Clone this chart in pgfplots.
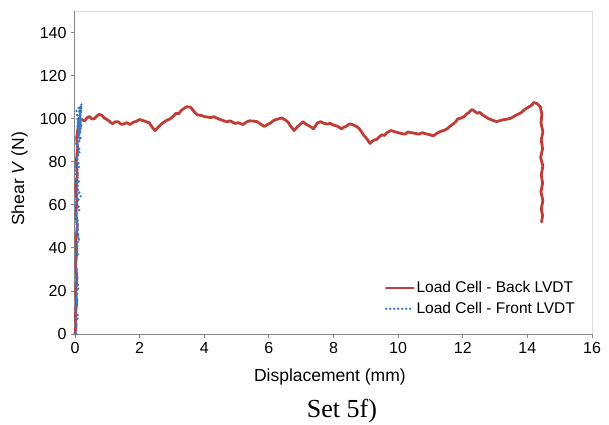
\documentclass[border=0pt]{standalone}
\usepackage{pgfplots}
\pgfplotsset{compat=1.18}
\usepackage{fontspec}
\setmainfont{Liberation Sans}
\newfontfamily\serifcap{Liberation Serif}
\definecolor{backred}{RGB}{192,60,55}
\definecolor{frontblue}{RGB}{60,120,200}
\definecolor{axgray}{RGB}{134,134,134}
\definecolor{boxgray}{RGB}{220,220,220}
\begin{document}
\begin{tikzpicture}[x=1pt,y=1pt]
\useasboundingbox (0,0) rectangle (609,424);
\begin{axis}[
  at={(75pt,90pt)}, anchor=origin,
  scale only axis, width=517pt, height=323pt,
  xmin=0, xmax=16, ymin=0, ymax=150,
  xtick={0,2,...,16}, ytick={0,20,...,140},
  axis x line*=bottom, axis y line*=left,
  axis line style={axgray, line width=1pt},
  tick align=outside, major tick length=4pt,
  tick style={axgray, line width=0.8pt},
  /pgf/number format/assume math mode=true,
  tick label style={font=\fontsize{16}{18}\selectfont},
  xticklabel style={yshift=-1pt},
  yticklabel style={xshift=-1pt},
  xlabel={Displacement (mm)},
  ylabel={Shear \textit{V} (N)},
  every axis x label/.style={at={(axis description cs:0.493,-0.148)}, anchor=base, font=\fontsize{17.5}{20}\selectfont},
  every axis y label/.style={at={(axis description cs:-0.107,0.48)}, rotate=90, anchor=center, font=\fontsize{17.5}{20}\selectfont},
  legend style={at={(axis description cs:0.595,0.175)}, anchor=north west, draw=none, fill=none,
    font=\fontsize{15.5}{18}\selectfont, row sep=4pt, inner sep=2pt},
  legend cell align=left,
  legend image code/.code={\draw[#1] (0pt,0pt) -- (27pt,0pt);},
  clip=false,
]
\draw[boxgray, line width=1pt] (rel axis cs:0,1) -- (rel axis cs:1,1) -- (rel axis cs:1,0);
\addplot[backred, line width=2.8pt, line join=round, line cap=round] coordinates {
(0,0)(0.03,4)(0.01,9)(0.05,14)(0.02,20)(0.06,26)(0.02,32)(0.05,38)(0.03,44)(0.07,50)(0.03,56)(0.06,62)(0.02,68)(0.07,74)(0.04,80)(0.08,86)(0.05,91)(0.1,96)(0.13,100.2)
(0.22,99.5)(0.3,99)(0.38,100.5)(0.45,101)(0.52,99.8)(0.6,100)(0.68,101.3)(0.75,102)(0.84,101.5)(0.9,100.3)(0.95,100)(1.05,99)(1.1,98.2)(1.17,97.7)(1.25,98.6)(1.35,98.5)(1.42,97.4)(1.5,97.5)(1.6,98.1)(1.71,97.3)(1.8,98.3)(1.9,98.8)(2.0,99.6)(2.15,98.9)(2.3,98)(2.4,95.8)(2.48,94.5)(2.6,96.5)(2.7,97.8)(2.8,98.9)(2.95,100)(3.05,101.2)(3.13,102.6)(3.2,102.2)(3.3,104)(3.45,105.5)(3.57,105.4)(3.65,104)(3.7,103)(3.79,101.8)(3.9,101.5)(4.0,101)(4.2,100.5)(4.3,100.9)(4.44,99.9)(4.55,99.3)(4.7,98.5)(4.8,99)(4.95,97.8)(5.05,98.1)(5.2,97.3)(5.3,98.4)(5.4,99)(5.5,98.9)(5.64,98.6)(5.75,97.4)(5.86,96.4)(5.95,97.2)(6.05,98)(6.15,99.2)(6.29,99.9)(6.4,100.3)(6.51,99.4)(6.6,98.3)(6.65,97)(6.78,94.5)(6.9,96.5)(6.97,97.4)(7.06,98.6)(7.13,97.6)(7.2,97)(7.3,96.2)(7.38,95.3)(7.45,96.8)(7.5,98)(7.6,98.6)(7.7,97.9)(7.8,97.5)(7.9,97.8)(8.0,97)(8.12,96.5)(8.25,95.3)(8.33,96.1)(8.4,96.5)(8.5,97.6)(8.58,97.3)(8.7,96.5)(8.8,95.3)(8.88,93.6)(8.95,92)(9.05,90.3)(9.13,88.5)(9.2,89.6)(9.25,90)(9.34,90.4)(9.42,91.6)(9.5,92.5)(9.58,92.2)(9.65,93.5)(9.78,94.5)(9.9,93.9)(10.0,93.5)(10.1,93.1)(10.22,92.8)(10.3,93.8)(10.4,93.5)(10.52,93.2)(10.65,92.8)(10.75,93.5)(10.85,93)(10.97,92.6)(11.09,92)(11.2,93.2)(11.3,94)(11.42,94.6)(11.52,95.3)(11.6,96.4)(11.7,97.5)(11.78,98.6)(11.85,99.9)(11.95,100.3)(12.05,101)(12.12,102.2)(12.2,103)(12.29,104.3)(12.37,103.4)(12.45,102.5)(12.53,102.9)(12.61,101.8)(12.7,100.9)(12.8,100)(12.92,99.3)(13.05,98.6)(13.15,99.1)(13.25,99.5)(13.38,99.8)(13.49,100.2)(13.6,101.2)(13.7,102)(13.8,102.7)(13.92,104.3)(14.05,105.5)(14.12,106.1)(14.2,107.5)(14.3,107)(14.4,105.5)(14.45,102)(14.42,98)(14.48,94)(14.43,90)(14.47,86)(14.41,82)(14.48,78)(14.43,74)(14.47,70)(14.42,66)(14.48,62)(14.43,58)(14.47,55)(14.44,52)
};
\addlegendentry{Load Cell - Back LVDT}
\addplot[frontblue, line width=2.6pt, line cap=round, dash pattern=on 0pt off 4pt] coordinates {
(0,0)(0.05,2)(0.02,5)(0.1,8)(0,12)(0.08,15)(0.03,19)(0.12,22)(0.01,26)(0.06,30)(0,34)(0.09,37)(0.02,41)(0.13,44)(0.04,48)(0.1,52)(0.01,55)(0.15,58)(0.05,61)(0.18,64)(0.06,68)(0.12,71)(0.02,75)(0.14,78)(0.05,82)(0.16,85)(0.08,88)(0.18,91)(0.1,94)(0.17,97)(0.12,100)(0.2,103)(0.14,106)(0.18,99)(0.15,104)(0.19,96)(0.16,101)(0.2,107)(0.13,98)(0.19,105)
(0.08,102)(0.17,93)(0.1,99)(0.2,100)(0.06,96)(0.15,90)(0.04,104)(0.18,106)(0.1,92)(0.2,97)(0.03,88)(0.12,84)(0.01,79)(0.09,66)(0.0,60)(0.11,45)(0.02,35)(0.07,20)(0.0,10)(0.04,0)
};
\addlegendentry{Load Cell - Front LVDT}
\end{axis}
\node[font=\serifcap\fontsize{26}{28}\selectfont, anchor=base] at (342,6.5) {Set 5f)};
\end{tikzpicture}
\end{document}
